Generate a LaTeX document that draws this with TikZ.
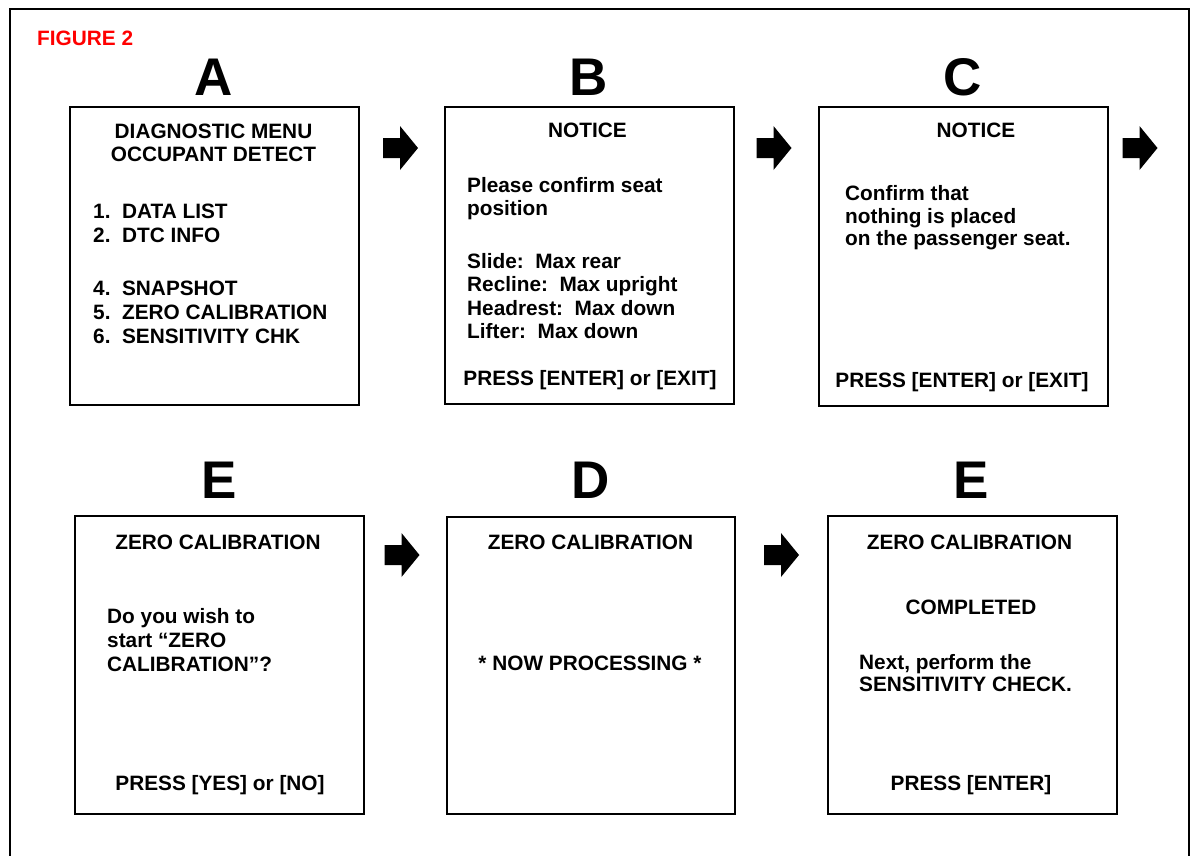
\documentclass[tikz,border=0pt]{standalone}
\usepackage{fontspec}
\setmainfont{Liberation Sans}
\begin{document}
\begin{tikzpicture}[x=1pt,y=-1pt,
  screen/.style={draw, line width=2pt, minimum width=289pt, minimum height=298pt, inner sep=0pt, anchor=north west},
  txt/.style={font=\fontsize{20.8}{24}\selectfont\bfseries, inner sep=0pt},
  ltxt/.style={txt, anchor=base west},
  ctxt/.style={txt, anchor=base},
  bigletter/.style={font=\fontsize{53}{60}\selectfont\bfseries, inner sep=0pt, anchor=base},
  blockarrow/.pic={\fill (-17.5,-10) -- (-0.5,-10) -- (-0.5,-22) -- (17.5,0) -- (-0.5,22) -- (-0.5,10) -- (-17.5,10) -- cycle;}
]
\useasboundingbox (0,0) rectangle (1192,855);
\fill[white] (0,0) rectangle (1192,855);
% outer frame
\draw[line width=2.5pt] (10,860) -- (10,9) -- (1189,9) -- (1189,860);
\node[txt, anchor=base west, text={rgb,255:red,255;green,0;blue,0}] (fig) at (37,45) {FIGURE 2};

% letters
\node[bigletter] (LA) at (213.5,95) {A};
\node[bigletter] (LB) at (588.5,95) {B};
\node[bigletter] (LC) at (962.5,95) {C};
\node[bigletter] (LE1) at (219,498) {E};
\node[bigletter] (LD) at (590.5,498) {D};
\node[bigletter] (LE2) at (971.5,498) {E};

% screens
\node[screen] (A) at (69,106) {};
\node[screen, minimum height=297pt] (B) at (444,106) {};
\node[screen, minimum height=299pt] (C) at (818,106) {};
\node[screen] (E1) at (74,515) {};
\node[screen, minimum width=288pt, minimum height=297pt] (D) at (446,516) {};
\node[screen] (E2) at (827,515) {};

% arrows
\pic at (400.5,148) {blockarrow};
\pic at (774,148) {blockarrow};
\pic at (1140,148) {blockarrow};
\pic at (402,555) {blockarrow};
\pic at (781.5,555) {blockarrow};

% Screen A
\node[ctxt] (a1) at (213.5,138) {DIAGNOSTIC MENU};
\node[ctxt] (a2) at (213.5,161) {OCCUPANT DETECT};
\node[ltxt] (a3) at (93,218) {1.\ \ DATA LIST};
\node[ltxt] (a4) at (93,242) {2.\ \ DTC INFO};
\node[ltxt] (a5) at (93,295) {4.\ \ SNAPSHOT};
\node[ltxt] (a6) at (93,319) {5.\ \ ZERO CALIBRATION};
\node[ltxt] (a7) at (93,343) {6.\ \ SENSITIVITY CHK};

% Screen B
\node[ctxt] (b1) at (587.5,137) {NOTICE};
\node[ltxt] (b2) at (467,192) {Please confirm seat};
\node[ltxt] (b3) at (467,215) {position};
\node[ltxt] (b4) at (467,268) {Slide:\ \ Max rear};
\node[ltxt] (b5) at (467,291.5) {Recline:\ \ Max upright};
\node[ltxt] (b6) at (467,315) {Headrest:\ \ Max down};
\node[ltxt] (b7) at (467,338) {Lifter:\ \ Max down};
\node[ctxt] (b8) at (590,385) {PRESS [ENTER] or [EXIT]};

% Screen C
\node[ctxt] (c1) at (976,137) {NOTICE};
\node[ltxt] (c2) at (845,200) {Confirm that};
\node[ltxt] (c3) at (845,223) {nothing is placed};
\node[ltxt] (c4) at (845,245.5) {on the passenger seat.};
\node[ctxt] (c5) at (962,387) {PRESS [ENTER] or [EXIT]};

% Screen E1
\node[ctxt] (e1) at (218,549) {ZERO CALIBRATION};
\node[ltxt] (e2) at (107,623) {Do you wish to};
\node[ltxt] (e3) at (107,647) {start “ZERO};
\node[ltxt] (e4) at (107,671) {CALIBRATION”?};
\node[ctxt] (e5) at (220,790) {PRESS [YES] or [NO]};

% Screen D
\node[ctxt] (d1) at (590.5,549) {ZERO CALIBRATION};
\node[ctxt] (d2) at (590,670) {* NOW PROCESSING *};

% Screen E2
\node[ctxt] (f1) at (969.5,549) {ZERO CALIBRATION};
\node[ctxt] (f2) at (971,614) {COMPLETED};
\node[ltxt] (f3) at (859,669) {Next, perform the};
\node[ltxt] (f4) at (859,691) {SENSITIVITY CHECK.};
\node[ctxt] (f5) at (971,790) {PRESS [ENTER]};
\end{tikzpicture}
\end{document}
